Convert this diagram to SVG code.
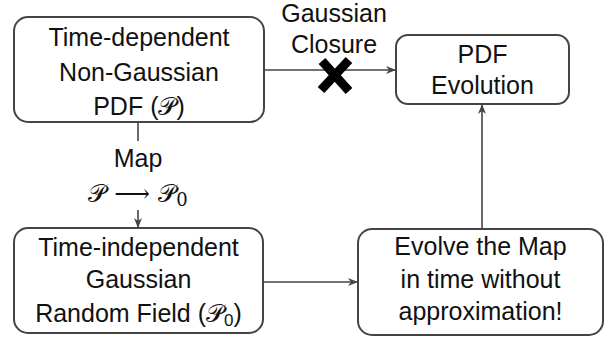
<svg xmlns="http://www.w3.org/2000/svg" width="605" height="339" viewBox="0 0 605 339">
<style>
.box{fill:#fff;stroke:#444;stroke-width:2}
.t{font-family:"Liberation Sans",Arial,sans-serif;font-size:25px;fill:#111;text-anchor:middle}
.m{font-family:"DejaVu Serif","DejaVu Sans","Liberation Serif",serif;font-size:25px;fill:#111}
.c{stroke:#444;stroke-width:1.6;fill:none}
</style>
<defs>
<marker id="ah" viewBox="0 0 10 8" refX="9" refY="4" markerWidth="10" markerHeight="8" markerUnits="userSpaceOnUse" orient="auto">
<path d="M0,0 L10,4 L0,8 L3,4 Z" fill="#444"/>
</marker>
</defs>
<g id="connectors">
<line class="c" x1="264" y1="70" x2="395" y2="70" marker-end="url(#ah)"/>
<line class="c" x1="138" y1="122" x2="138" y2="141"/>
<line class="c" x1="138" y1="210" x2="138" y2="227" marker-end="url(#ah)"/>
<line class="c" x1="264" y1="282" x2="357" y2="282" marker-end="url(#ah)"/>
<line class="c" x1="482" y1="229" x2="482" y2="105" marker-end="url(#ah)"/>
</g>
<g id="closure-label">
<text class="t" x="334" y="22">Gaussian</text>
<text class="t" x="334" y="53">Closure</text>
<path d="M321,90 L349,60 M322,61 L349,91" stroke="#000" stroke-width="9" stroke-linecap="butt"/>
</g>
<g id="map-label">
<text class="t" x="138" y="167">Map</text>
<text class="m" x="138" y="202" text-anchor="middle">𝒫 ⟶ 𝒫<tspan font-size="18" dy="4">0</tspan></text>
</g>
<g id="node-pdf">
<rect class="box" x="14" y="17" width="250" height="105" rx="14"/>
<text class="t" x="139" y="46">Time-dependent</text>
<text class="t" x="139" y="81">Non-Gaussian</text>
<text class="t" x="139" y="115">PDF (𝒫)</text>
</g>
<g id="node-evolution">
<rect class="box" x="396" y="35" width="173" height="69" rx="12"/>
<text class="t" x="482.5" y="63">PDF</text>
<text class="t" x="482.5" y="94">Evolution</text>
</g>
<g id="node-gaussian">
<rect class="box" x="14" y="228" width="249" height="105" rx="14"/>
<text class="t" x="138.5" y="256">Time-independent</text>
<text class="t" x="138.5" y="288">Gaussian</text>
<text class="t" x="138.5" y="322">Random Field (𝒫<tspan font-size="17" dy="4">0</tspan><tspan dy="-4">)</tspan></text>
</g>
<g id="node-evolve">
<rect class="box" x="358" y="229" width="245" height="106" rx="14"/>
<text class="t" x="480.5" y="255">Evolve the Map</text>
<text class="t" x="480.5" y="288">in time without</text>
<text class="t" x="480.5" y="320">approximation!</text>
</g>
</svg>
